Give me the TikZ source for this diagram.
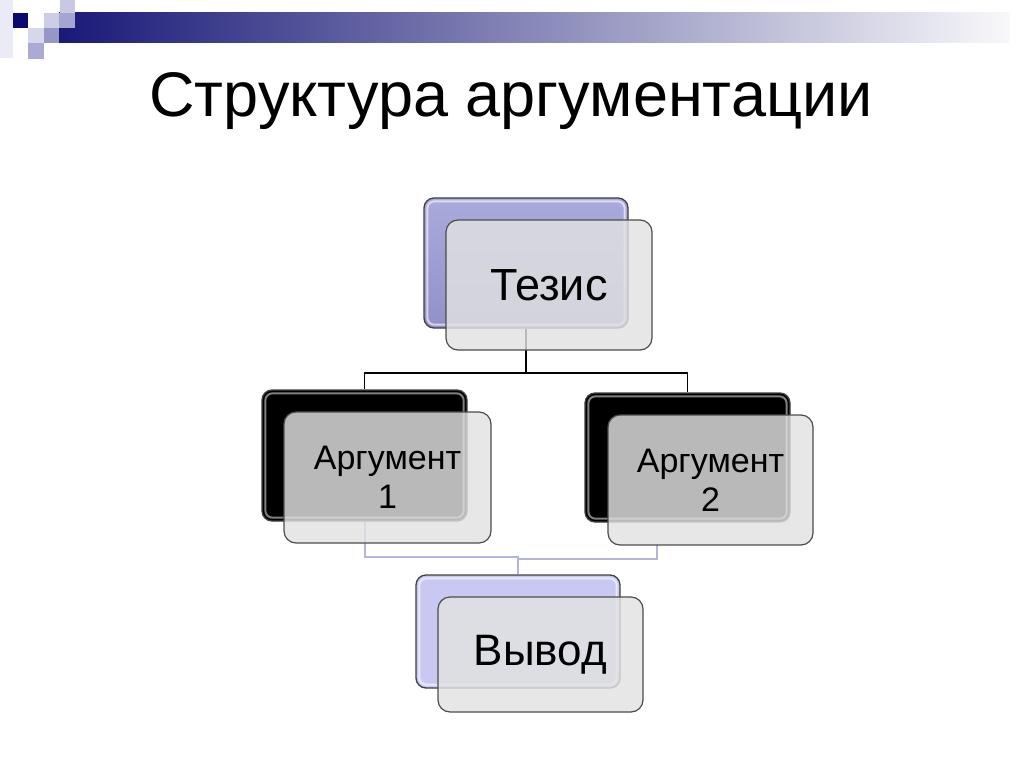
\documentclass[tikz,border=0pt]{standalone}
\usepackage{fontspec}
\setmainfont{Liberation Sans}
\definecolor{navy}{RGB}{10,10,110}
\definecolor{barL}{RGB}{25,25,120}
\definecolor{barM}{RGB}{170,170,192}
\definecolor{barR}{RGB}{248,248,250}
\definecolor{sqA}{RGB}{235,235,248}
\definecolor{sqB}{RGB}{200,200,228}
\definecolor{sqC}{RGB}{205,205,230}
\definecolor{sqD}{RGB}{165,165,210}
\definecolor{sqE}{RGB}{215,215,235}
\definecolor{sqF}{RGB}{150,150,200}
\definecolor{sqG}{RGB}{170,170,212}
\definecolor{tezTop}{RGB}{170,170,220}
\definecolor{tezBot}{RGB}{145,145,200}
\definecolor{vyvod}{RGB}{200,200,242}
\definecolor{lowline}{RGB}{180,180,225}
\definecolor{frontfill}{RGB}{226,226,226}
\begin{document}
\begin{tikzpicture}[x=1pt,y=-1pt,
  backbox/.style={draw=black!75, line width=1.3pt, rounded corners=10pt, inner sep=0pt},
  frontbox/.style={draw=black!70, line width=1.2pt, rounded corners=12pt, inner sep=0pt,
     fill=frontfill, fill opacity=0.82, text opacity=1, align=center},
  gloss/.style={draw=white, line width=2pt, opacity=0.6, rounded corners=7pt},
  topconn/.style={draw=black, line width=1.8pt},
  lowconn/.style={draw=lowline, line width=2pt}
]
\useasboundingbox (0,0) rectangle (1024,767);
\fill[white] (0,0) rectangle (1024,767);
% header
\fill[sqA] (0,0) rectangle (13,58);
\shade[left color=barL, middle color=barM, right color=barR] (59,13) rectangle (1010,43);
\fill[navy] (13,13) rectangle (28,28);
\fill[sqB] (60,0) rectangle (75,13);
\fill[sqC] (44,13) rectangle (59,28);
\fill[sqD] (59,13) rectangle (75,28);
\fill[sqE] (28,28) rectangle (44,43);
\fill[sqF] (44,28) rectangle (59,43);
\fill[sqG] (28,43) rectangle (44,59);
% title
\node[anchor=base, font=\fontsize{63}{63}\selectfont] (title) at (511,117) {Структура аргументации};
% back boxes
\node[backbox, minimum width=204pt, minimum height=130pt, top color=tezTop, bottom color=tezBot] (tb) at (526,263) {};
\draw[gloss] ([shift={(4,4)}]tb.north west) rectangle ([shift={(-4,-4)}]tb.south east);
\node[backbox, minimum width=205pt, minimum height=131pt, fill=black] (a1b) at (364.5,455.5) {};
\draw[gloss, opacity=0.5] ([shift={(4,4)}]a1b.north west) rectangle ([shift={(-4,-4)}]a1b.south east);
\node[backbox, minimum width=205pt, minimum height=129pt, fill=black] (a2b) at (687.5,457.5) {};
\draw[gloss, opacity=0.5] ([shift={(4,4)}]a2b.north west) rectangle ([shift={(-4,-4)}]a2b.south east);
\node[backbox, minimum width=204pt, minimum height=113pt, fill=vyvod] (vb) at (518,631.5) {};
\draw[gloss] ([shift={(4,4)}]vb.north west) rectangle ([shift={(-4,-4)}]vb.south east);
% connectors
\draw[topconn] (tb.south) -- (tb.south |- 0,373) -| (a1b.north);
\draw[topconn] (tb.south |- 0,373) -| (a2b.north);
\coordinate (a2c) at (657,545);
\draw[lowconn] (a1b.south) -- (a1b.south |- 0,557) -| (vb.north);
\draw[lowconn] (a2c) -- (a2c |- 0,559) -- (vb.north |- 0,559);
% front boxes
\node[frontbox, minimum width=206pt, minimum height=130pt, font=\fontsize{45}{48}\selectfont] (tf) at (549,285) {Тезис};
\node[frontbox, minimum width=207pt, minimum height=131pt, font=\fontsize{34}{39}\selectfont] (a1f) at (387.5,477.5) {Аргумент\\1};
\node[frontbox, minimum width=205pt, minimum height=130pt, font=\fontsize{34}{39}\selectfont] (a2f) at (710.5,480) {Аргумент\\2};
\node[frontbox, minimum width=205pt, minimum height=115pt, font=\fontsize{44}{48}\selectfont] (vf) at (540.5,654.5) {Вывод};
\end{tikzpicture}
\end{document}
